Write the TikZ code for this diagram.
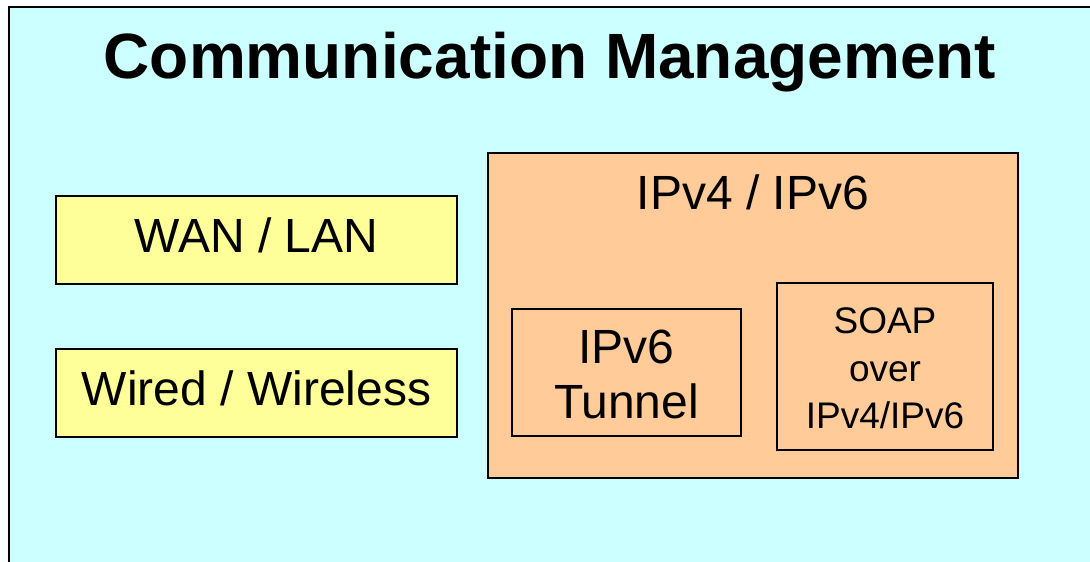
\documentclass[tikz,border=0pt]{standalone}
\usepackage{fontspec}
\setmainfont{Liberation Sans}
\definecolor{bgcyan}{HTML}{CCFFFF}
\definecolor{boxyellow}{HTML}{FFFF99}
\definecolor{boxorange}{HTML}{FFCC99}
\begin{document}
\begin{tikzpicture}[x=1pt,y=-1pt,
  panel/.style={draw=black,line width=2.2pt},
  lbl/.style={inner sep=0pt,anchor=base,font=\fontsize{48}{56}\selectfont},
  small/.style={inner sep=0pt,anchor=base,font=\fontsize{37}{47.5}\selectfont}]
\useasboundingbox (0,0) rectangle (1090,562);
\fill[white] (0,0) rectangle (1090,562);
\draw[fill=bgcyan,line width=2.2pt] (9,7) rectangle (1110,590);
\node[inner sep=0pt,anchor=base,font=\fontsize{64}{70}\selectfont\bfseries] (title) at (550,78) {Communication Management};
% left boxes
\draw[panel,fill=boxyellow] (56,196) rectangle (457,284);
\node[lbl] (wan) at (256.5,252) {WAN / LAN};
\draw[panel,fill=boxyellow] (56,349) rectangle (457,437);
\node[lbl] (wired) at (256.5,405) {Wired / Wireless};
% right box
\draw[panel,fill=boxorange,line width=2.6pt] (488,153) rectangle (1018,478);
\node[lbl] (ip) at (753,209) {IPv4 / IPv6};
\draw[line width=1.8pt] (512,309) rectangle (741,436);
\node[lbl] (tun1) at (626.5,363) {IPv6};
\node[lbl] (tun2) at (626.5,418) {Tunnel};
\draw[line width=1.8pt] (777,283) rectangle (993,450);
\node[small] (soap1) at (885,333) {SOAP};
\node[small] (soap2) at (885,381) {over};
\node[small] (soap3) at (885,428) {IPv4/IPv6};
\end{tikzpicture}
\end{document}
